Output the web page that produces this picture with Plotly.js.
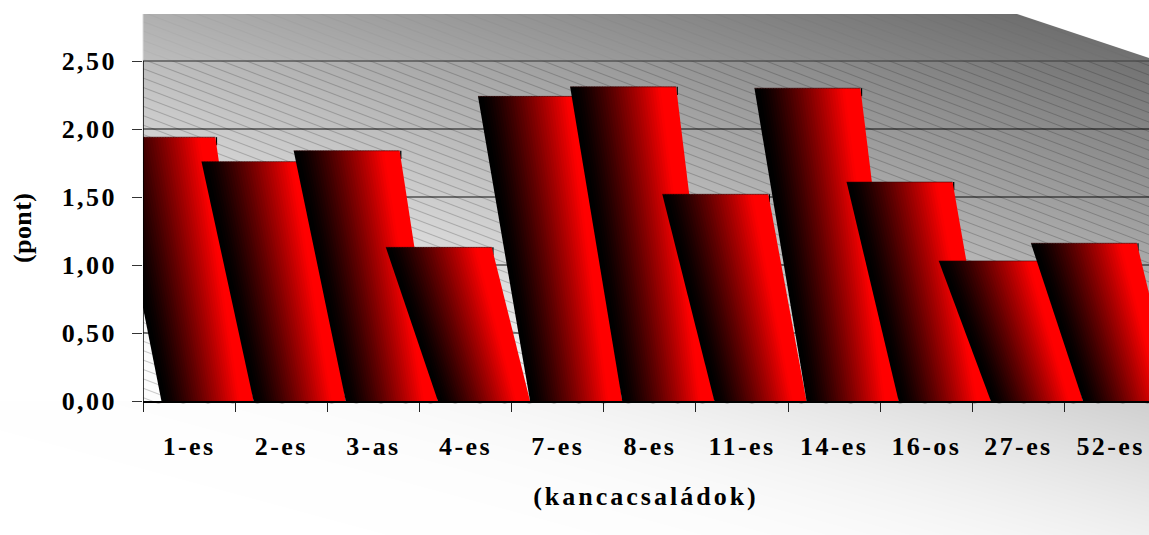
<!DOCTYPE html>
<html>
<head>
<meta charset="utf-8">
<script src="https://cdn.plot.ly/plotly-3.0.1.min.js"></script>
<style>
  html, body { margin: 0; padding: 0; background: #fff; overflow: hidden; }
  #chart { width: 1149px; height: 535px; }
  .main-svg text { letter-spacing: 2.4px; }
  .main-svg .xtitle { letter-spacing: 3px; }
  .main-svg .annotation text { letter-spacing: 0.4px; }
</style>
</head>
<body>
<div id="chart"></div>
<script>
// Mare-family scores
const categories = ['1-es', '2-es', '3-as', '4-es', '7-es', '8-es', '11-es', '14-es', '16-os', '27-es', '52-es'];
const scores = [1.94, 1.76, 1.84, 1.13, 2.24, 2.31, 1.52, 2.30, 1.61, 1.03, 1.16];
const yTicks = [0, 0.5, 1, 1.5, 2, 2.5];

// Frame of the plotting area in page pixels
const W = 1149, H = 535, L = 142.5, T = 14, B = 401;
const catWidth = 92.2, unitHeight = 136;
const xMax = (W - L) / catWidth;
const yMax = (B - T) / unitHeight;

// Slanted bar outline, in category units relative to the slot start
const baseLeft = 0.2, baseRight = 1.2, topLeft = -0.365, topRight = 0.785;
const stripCount = 40;

// Backdrop: diagonal grey wash with the hatched back wall
function backdrop() {
  const c = document.createElement('canvas');
  c.width = W; c.height = H;
  const g = c.getContext('2d');
  g.fillStyle = '#fff';
  g.fillRect(0, 0, W, H);
  g.save();
  g.beginPath();
  g.moveTo(L, T); g.lineTo(1017, T); g.lineTo(W, 58); g.lineTo(W, H);
  g.lineTo(0, H); g.lineTo(0, B); g.lineTo(L, B); g.closePath();
  g.clip();
  const img = g.createImageData(W, H);
  const soft = 14;
  for (let y = 0; y < H; y++) {
    for (let x = 0; x < W; x++) {
      const raw = 176 - 0.0746 * (x - 142) + 0.276 * (y - 14);
      const v = 255 - soft * Math.log(1 + Math.exp((255 - raw) / soft));
      const i = (y * W + x) * 4;
      img.data[i] = img.data[i + 1] = img.data[i + 2] = v;
      img.data[i + 3] = 255;
    }
  }
  const tmp = document.createElement('canvas');
  tmp.width = W; tmp.height = H;
  tmp.getContext('2d').putImageData(img, 0, 0);
  g.drawImage(tmp, 0, 0);
  const hatch = (y0, y1, color) => {
    g.save();
    g.beginPath();
    g.rect(L, y0, W - L, y1 - y0);
    g.clip();
    g.strokeStyle = color;
    g.lineWidth = 1;
    for (let s = y0 - 500; s < y1; s += 9.4) {
      g.beginPath();
      g.moveTo(L, s);
      g.lineTo(W, s + 0.38 * (W - L));
      g.stroke();
    }
    g.restore();
  };
  hatch(T, 61, 'rgba(70,70,70,0.05)');
  hatch(61, B + 3, 'rgba(40,40,40,0.26)');
  g.restore();
  return c.toDataURL('image/png');
}

function redAt(f) {
  const r = Math.max(0, Math.min(1, (f - 0.03) / 0.82));
  return 'rgb(' + Math.round(255 * Math.pow(r, 1.25)) + ',0,0)';
}

const lerp = (a, b, f) => a + (b - a) * f;
const traces = [];
scores.forEach((v, i) => {
  // Dark marking under the top right corner of the bar
  traces.push({
    type: 'scatter', mode: 'lines', hoverinfo: 'skip', showlegend: false,
    x: [i + topRight + 0.012, i + topRight + 0.012], y: [v, v - 0.06],
    line: { color: '#000', width: 1.3 }
  });
  for (let s = 0; s < stripCount; s++) {
    const f0 = s / stripCount;
    const f1 = Math.min(1, (s + 1.4) / stripCount);
    traces.push({
      type: 'scatter', mode: 'lines', fill: 'toself', hoverinfo: 'skip', showlegend: false,
      x: [lerp(i + baseLeft, i + baseRight, f0), lerp(i + topLeft, i + topRight, f0),
          lerp(i + topLeft, i + topRight, f1), lerp(i + baseLeft, i + baseRight, f1)],
      y: [0, v, v, 0],
      line: { width: 0 },
      fillcolor: redAt((s + 0.5) / stripCount)
    });
  }
  // Thin shaded rim along the top of the bar
  traces.push({
    type: 'scatter', mode: 'lines', hoverinfo: 'skip', showlegend: false,
    x: [i + topLeft, i + topRight], y: [v, v],
    line: { color: 'rgba(50,0,0,0.55)', width: 1 }
  });
});

const gridShapes = yTicks.filter(t => t > 0).map(t => ({
  type: 'line', layer: 'below', xref: 'paper', yref: 'y', x0: 0, x1: 1, y0: t, y1: t,
  line: { color: t === 2.5 ? 'rgba(70,70,70,0.85)' : 'rgba(0,0,0,0.62)', width: 1.5 }
}));
const wall = {
  type: 'line', layer: 'above', xref: 'x', yref: 'y', x0: 0, x1: 0, y0: 0, y1: 2.5,
  line: { color: '#000', width: 1.5 }
};

const labelFont = { family: '"Liberation Serif", "Times New Roman", serif', size: 26, color: '#000', weight: 700 };

const layout = {
  width: W, height: H,
  margin: { l: L, r: 0, t: T, b: H - B, pad: 0 },
  paper_bgcolor: 'rgba(0,0,0,0)',
  plot_bgcolor: 'rgba(0,0,0,0)',
  showlegend: false,
  separators: ',.',
  images: [{
    source: backdrop(), layer: 'below', xref: 'paper', yref: 'paper',
    x: -L / (W - L), y: 1 + T / (B - T),
    sizex: W / (W - L), sizey: H / (B - T),
    xanchor: 'left', yanchor: 'top', sizing: 'stretch'
  }],
  shapes: gridShapes.concat([wall]),
  annotations: [{
    text: '(pont)', textangle: -90, showarrow: false, font: labelFont,
    xref: 'paper', yref: 'y', x: (22 - L) / (W - L), y: 1.27,
    xanchor: 'center', yanchor: 'middle'
  }],
  xaxis: {
    range: [0, xMax], fixedrange: true, showgrid: false, zeroline: false,
    showline: true, linecolor: '#000', linewidth: 1.5,
    tickmode: 'array',
    tickvals: categories.map((_, i) => i + 0.5),
    ticktext: categories,
    ticks: '', ticklabelstandoff: 21,
    tickfont: labelFont,
    minor: {
      tickmode: 'array', tickvals: categories.map((_, i) => i),
      ticks: 'outside', ticklen: 9, tickwidth: 1, tickcolor: '#222', showgrid: false
    },
    title: { text: '(kancacsaládok)', font: labelFont, standoff: 27 }
  },
  yaxis: {
    range: [0, yMax], fixedrange: true, showgrid: false, zeroline: false,
    showline: false,
    tickmode: 'array', tickvals: yTicks, tickformat: '.2f',
    ticks: 'outside', ticklen: 10, tickwidth: 1, tickcolor: '#333',
    ticklabelstandoff: 10,
    tickfont: labelFont
  }
};

Plotly.newPlot('chart', traces, layout, { displayModeBar: false, staticPlot: true });
</script>
</body>
</html>
